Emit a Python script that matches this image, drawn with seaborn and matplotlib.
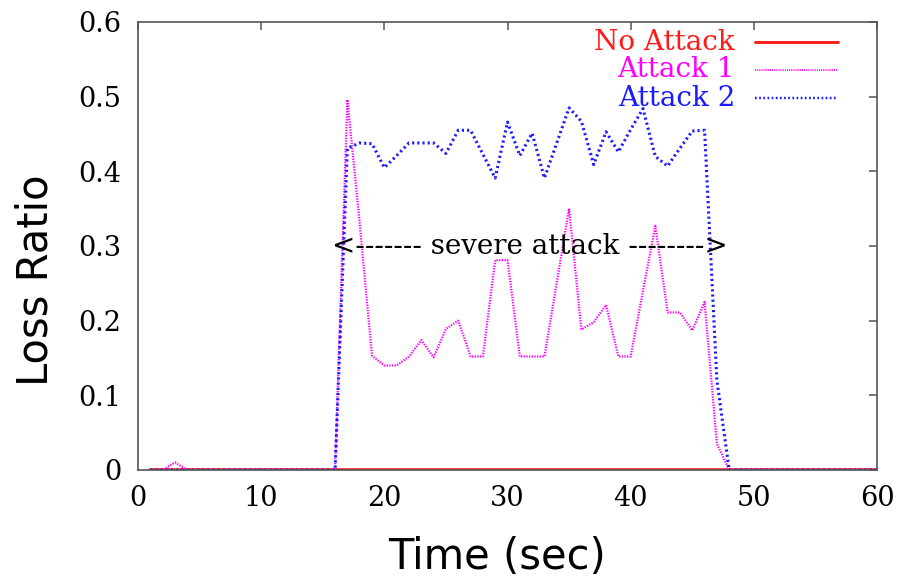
import matplotlib
matplotlib.use("Agg")
import matplotlib.pyplot as plt
import seaborn as sns
import pandas as pd
from matplotlib.ticker import FixedLocator, FuncFormatter

# time axis (seconds) and loss ratio per second for each scenario
time_sec = list(range(1, 61))

no_attack = [0.0] * 60

attack_1 = [
    0.0, 0.0, 0.01, 0.0, 0.0, 0.0, 0.0, 0.0, 0.0, 0.0,
    0.0, 0.0, 0.0, 0.0, 0.0, 0.0, 0.496, 0.33, 0.153, 0.14,
    0.14, 0.152, 0.174, 0.151, 0.189, 0.2, 0.152, 0.152, 0.281, 0.281,
    0.152, 0.152, 0.152, 0.251, 0.35, 0.188, 0.198, 0.221, 0.152, 0.152,
    0.24, 0.327, 0.211, 0.211, 0.187, 0.225, 0.035, 0.0, 0.0, 0.0,
    0.0, 0.0, 0.0, 0.0, 0.0, 0.0, 0.0, 0.0, 0.0, 0.0,
]

attack_2 = [
    0.0, 0.0, 0.0, 0.0, 0.0, 0.0, 0.0, 0.0, 0.0, 0.0,
    0.0, 0.0, 0.0, 0.0, 0.0, 0.0, 0.431, 0.438, 0.437, 0.405,
    0.421, 0.438, 0.438, 0.438, 0.424, 0.455, 0.455, 0.423, 0.391, 0.466,
    0.421, 0.451, 0.391, 0.438, 0.485, 0.467, 0.409, 0.453, 0.426, 0.456,
    0.484, 0.42, 0.407, 0.431, 0.454, 0.455, 0.12, 0.0, 0.0, 0.0,
    0.0, 0.0, 0.0, 0.0, 0.0, 0.0, 0.0, 0.0, 0.0, 0.0,
]

series_names = ["No Attack", "Attack 1", "Attack 2"]
series_colors = ["#ff1a1a", "#ff00ff", "#1a1aff"]

x_ticks = [0, 10, 20, 30, 40, 50, 60]
y_ticks = [0, 0.1, 0.2, 0.3, 0.4, 0.5, 0.6]

sns.set_theme(style="white")
plt.rcParams["font.family"] = ["DejaVu Serif"]
plt.rcParams["text.color"] = "black"
plt.rcParams["axes.labelcolor"] = "black"

df = pd.DataFrame({
    "Time": time_sec * 3,
    "Loss": no_attack + attack_1 + attack_2,
    "Series": [series_names[0]] * 60 + [series_names[1]] * 60 + [series_names[2]] * 60,
})

fig = plt.figure(figsize=(9.07, 5.84), dpi=100)
W, H = 907, 584
left, right, top, bottom = 138, 877, 22, 470
ax = fig.add_axes([left / W, (H - bottom) / H, (right - left) / W, (bottom - top) / H])

styles = {
    "No Attack": dict(lw=2.6, ls="-"),
    "Attack 1": dict(lw=1.6, ls=(0, (0.6, 0.6))),
    "Attack 2": dict(lw=2.2, ls=(0, (0.7, 1.0))),
}

for name, color in zip(series_names, series_colors):
    sub = df[df["Series"] == name]
    st = styles[name]
    sns.lineplot(data=sub, x="Time", y="Loss", ax=ax, color=color,
                 linewidth=st["lw"], linestyle=st["ls"], legend=False,
                 errorbar=None)

ax.set_xlim(0, 60)
ax.set_ylim(0, 0.6)
ax.xaxis.set_major_locator(FixedLocator(x_ticks))
ax.yaxis.set_major_locator(FixedLocator(y_ticks))
ax.yaxis.set_major_formatter(FuncFormatter(lambda v, p: "0" if v == 0 else f"{v:.1f}"))

for sp in ax.spines.values():
    sp.set_color("#555555")
    sp.set_linewidth(1.2)

ax.tick_params(axis="both", which="major", direction="in", length=6, width=1.1,
               color="#555555", top=True, right=True, labelsize=19.5,
               labelcolor="black")
ax.tick_params(axis="y", pad=12)
ax.tick_params(axis="x", pad=11)

# axis titles
ax.set_xlabel("Time (sec)", fontsize=30, family=["DejaVu Sans"], color="black")
ax.set_ylabel("Loss Ratio", fontsize=30, family=["DejaVu Sans"], color="black")
ax.xaxis.label.set_va("center")
ax.yaxis.label.set_va("center")
ax.xaxis.set_label_coords(0.486, -0.194)
ax.yaxis.set_label_coords(-0.139, 0.424)

# attack window note
ax.text(31.8, 0.3, "<------- severe attack -------->", ha="center", va="center",
        fontsize=20, color="black")

# key in the upper right: label text to the left of a line sample
key_rows = [0.955, 0.893, 0.830]
for name, color, yk in zip(series_names, series_colors, key_rows):
    st = styles[name]
    ax.text(0.808, yk, name, transform=ax.transAxes, ha="right", va="center",
            fontsize=20, color=color)
    ax.plot([0.835, 0.947], [yk, yk], transform=ax.transAxes, color=color,
            linewidth=st["lw"] * 0.8, linestyle=st["ls"])

fig.savefig("out.png", dpi=100)
